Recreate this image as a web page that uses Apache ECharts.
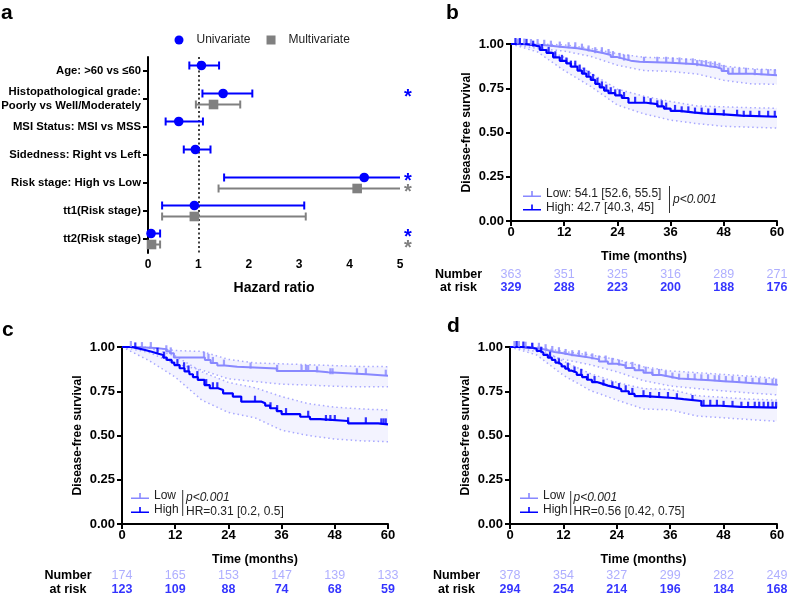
<!DOCTYPE html>
<html><head><meta charset="utf-8">
<script src="https://cdn.jsdelivr.net/npm/echarts@6/dist/echarts.min.js"></script>
<style>html,body{margin:0;padding:0;background:#fff}#chart{width:787px;height:600px}</style>
</head><body><div id="chart"></div>
<script>
// ---------- Panel a: forest plot data ----------
const forestCategories = ['Age: >60 vs ≤60', 'Histopathological grade:\nPoorly vs Well/Moderately', 'MSI Status: MSI vs MSS', 'Sidedness: Right vs Left', 'Risk stage: High vs Low', 'tt1(Risk stage)', 'tt2(Risk stage)'];
const uniIndex = [0, 1, 2, 3, 4, 5, 6];
const uniHR = [1.06, 1.49, 0.61, 0.94, 4.29, 0.92, 0.06];
const uniLower = [0.82, 1.08, 0.35, 0.71, 1.51, 0.28, 0.01];
const uniUpper = [1.41, 2.07, 1.09, 1.24, 12.2, 3.10, 0.24];
const uniSignificant = [0, 1, 0, 0, 1, 0, 1];
const multiIndex = [1, 4, 5, 6];
const multiHR = [1.30, 4.15, 0.92, 0.07];
const multiLower = [0.95, 1.40, 0.28, 0.01];
const multiUpper = [1.83, 12.3, 3.13, 0.24];
const multiSignificant = [0, 1, 0, 1];
const hrTicks = [0, 1, 2, 3, 4, 5];

// ---------- KM panels ----------
const riskTimes = [0, 12, 24, 36, 48, 60];
const riskRowLabels = ['Number', 'at risk'];
const bLowName = 'Low: 54.1 [52.6, 55.5]';
const bHighName = 'High: 42.7 [40.3, 45]';
const bLowRisk = [363, 351, 325, 316, 289, 271];
const bHighRisk = [329, 288, 223, 200, 188, 176];
const cLowRisk = [174, 165, 153, 147, 139, 133];
const cHighRisk = [123, 109, 88, 74, 68, 59];
const dLowRisk = [378, 354, 327, 299, 282, 249];
const dHighRisk = [294, 254, 214, 196, 184, 168];

const bLowCurve = [[0,1],[1.5,0.997],[4,0.994],[7,0.99],[9,0.985],[11,0.98],[13,0.976],[15,0.968],[17,0.958],[19,0.948],[21,0.938],[22.5,0.926],[24,0.916],[25.5,0.906],[27,0.9],[29,0.894],[36,0.89],[39,0.885],[42,0.875],[44.5,0.868],[46.5,0.86],[47.5,0.848],[49,0.832],[54.5,0.824],[60,0.821]];
const bHighCurve = [[0,1],[3,0.995],[5,0.985],[6.5,0.966],[8,0.95],[9.5,0.925],[11,0.905],[12.5,0.89],[13.5,0.872],[15,0.85],[16,0.833],[17,0.815],[18,0.797],[19,0.775],[20,0.755],[21,0.737],[22,0.722],[23.5,0.71],[25,0.695],[26.5,0.668],[30.5,0.66],[33,0.648],[34.5,0.635],[36,0.622],[38,0.614],[41,0.607],[44,0.602],[48,0.595],[52,0.589],[60,0.586]];
const bLowCI = [[0,1,1],[6,0.975,1],[12,0.96,0.995],[18,0.93,0.975],[24,0.88,0.945],[30,0.85,0.925],[36,0.845,0.92],[42,0.83,0.91],[48,0.795,0.875],[54,0.775,0.86],[60,0.772,0.853]];
const bHighCI = [[0,1,1],[6,0.955,0.99],[12,0.85,0.925],[18,0.76,0.835],[24,0.655,0.745],[30,0.605,0.705],[36,0.57,0.675],[42,0.55,0.65],[48,0.535,0.645],[54,0.53,0.64],[60,0.525,0.637]];
const bLowCensor = [1.5,2,3,4.5,6,7.5,9,11,13,14.5,16,17.5,19,20.5,22,23,24.5,25.5,26.5,30,33,35,36.5,38,39.5,41,42,43,44,45,46,47,48,49,50,51.5,53,55,56.5,58,59.5];
const bHighCensor = [1,2,3.5,5,7,8.5,10,11.5,12.5,13.5,14.5,15.5,16.5,17.5,18.5,19.5,20.5,21.5,22.5,23.5,24.5,25.5,28,30,31.5,33,34,35,37,38.5,40,41.5,43,44.5,46,48,51,52.5,54,56,58,59.5];

const cLowCurve = [[0,1],[3,0.994],[7.5,0.988],[10,0.976],[10.8,0.964],[11.7,0.94],[18.7,0.927],[20,0.91],[21.5,0.895],[23.2,0.888],[26,0.878],[34.9,0.865],[43.5,0.857],[46.5,0.846],[55.2,0.838],[60,0.838]];
const cHighCurve = [[0,1],[2.2,0.992],[3.7,0.983],[5.2,0.973],[6.7,0.962],[8.2,0.955],[9.3,0.94],[10.1,0.927],[11.2,0.912],[11.8,0.898],[13,0.88],[14.1,0.862],[15.2,0.846],[16,0.83],[17.1,0.814],[18.6,0.785],[19.8,0.767],[21.7,0.757],[22.8,0.738],[25,0.72],[26.9,0.691],[31.5,0.682],[32.3,0.669],[33.4,0.654],[34.9,0.638],[36,0.621],[40.2,0.606],[42.4,0.593],[44.7,0.582],[51,0.569],[57.8,0.563],[60,0.563]];
const cLowCI = [[0,1,1],[6,0.97,1],[12,0.905,0.98],[18,0.87,0.975],[24,0.82,0.93],[30,0.805,0.91],[36,0.79,0.905],[42,0.785,0.9],[48,0.778,0.895],[54,0.775,0.89],[60,0.776,0.889]];
const cHighCI = [[0,1,1],[6,0.925,0.995],[12,0.83,0.95],[18,0.7,0.86],[24,0.63,0.8],[30,0.6,0.77],[36,0.53,0.72],[42,0.5,0.68],[48,0.48,0.66],[54,0.47,0.65],[60,0.465,0.644]];
const cLowCensor = [2,4.5,6.5,10,11,18.5,19.5,20.5,23,29,35,40.5,41.5,42,44,47,47.5,53,55,59.5];
const cHighCensor = [3,8,9.5,12.5,14,15,17,19,20.5,21.5,30,33.5,35,37,42,46,47,48,51,55,58.5,59,59.5];

const dLowCurve = [[0,1],[3,0.996],[5,0.99],[7,0.982],[8.5,0.972],[10,0.965],[12,0.955],[14,0.948],[16,0.94],[18,0.93],[20,0.918],[22,0.905],[24,0.895],[26,0.882],[28,0.868],[30,0.855],[32,0.842],[34,0.832],[36,0.822],[38,0.816],[42,0.812],[45,0.807],[48,0.802],[51,0.797],[54,0.792],[57,0.787],[60,0.783]];
const dHighCurve = [[0,1],[2.5,0.997],[4.5,0.99],[6,0.978],[6.8,0.968],[7.5,0.955],[8.5,0.94],[9.4,0.927],[10.2,0.912],[10.9,0.902],[11.6,0.89],[12.4,0.878],[13.2,0.866],[13.9,0.856],[15,0.843],[16.2,0.83],[17.3,0.815],[18.4,0.802],[19.5,0.793],[20.7,0.782],[22,0.772],[23.7,0.762],[25,0.75],[26.7,0.735],[28,0.722],[30.4,0.712],[36.7,0.705],[39,0.695],[43,0.668],[47.3,0.662],[51.8,0.657],[60,0.654]];
const dLowCI = [[0,1,1],[6,0.975,1],[12,0.93,0.975],[18,0.9,0.955],[24,0.86,0.93],[30,0.81,0.888],[36,0.78,0.865],[42,0.765,0.855],[48,0.752,0.845],[54,0.74,0.835],[60,0.73,0.822]];
const dHighCI = [[0,1,1],[6,0.955,0.998],[12,0.84,0.92],[18,0.755,0.85],[24,0.7,0.8],[30,0.65,0.765],[36,0.645,0.76],[42,0.61,0.725],[48,0.6,0.715],[54,0.59,0.705],[60,0.58,0.7]];
const dLowCensor = [1,2,3.5,5,6.5,8,9.5,11,12.5,14,15.5,17,18.5,20,21.5,23,24.5,26,27.5,29,30.5,32,33.5,35,36.5,38,40,41.5,43,44.5,46,47,48.5,50,51.5,53,54.5,56,57.5,59,59.8];
const dHighCensor = [1.5,3,5,7,9,11,13,14.5,16,17.5,19,21,23,24.5,26,27.5,30,31.5,33.5,35.5,37.5,41,43.5,45,46.5,48,50,52,53.5,55,56,57,58,59,59.8];

// ---------- styling ----------
const FONT = '"Liberation Sans", Arial, Helvetica, sans-serif';
const LOW = '#8888FF', HIGH = '#0000FF', LOWTXT = '#9A9AFF', GREY = '#808080';
const CI_LINE = '#A8A8FF', CI_FILL = '#F3F3FF';
const LEG_ICON = 'path://M0,4.5H18V6H0Z M8.2,0H9.8V6H8.2Z';
const SQUARE_ICON = 'path://M0,4.5L0.01,4.5L0,4.51Z M8,0H17V9H8Z M25,4.5L24.99,4.5L25,4.51Z';

function stepValue(curve, t) {
  let v = curve[0][1];
  for (const p of curve) { if (p[0] <= t) v = p[1]; else break; }
  return v;
}

const chart = echarts.init(document.getElementById('chart'));

const boldLabel = (size, margin) => ({fontFamily: FONT, fontWeight: 'bold', fontSize: size, color: '#000', margin});
const blackLine = {lineStyle: {color: '#000', width: 2}};
const blackTick = {length: 5, lineStyle: {color: '#000', width: 2}};

const grids = [
  {left: 148, top: 57, width: 252, height: 196},
  {left: 511, top: 44, width: 266, height: 177},
  {left: 511, top: 268.5, width: 266, height: 26},
  {left: 122, top: 347, width: 266, height: 177},
  {left: 122, top: 569, width: 266, height: 28},
  {left: 510, top: 347, width: 267, height: 177},
  {left: 510, top: 569, width: 267, height: 28}
].map(g => Object.assign({containLabel: false, outerBoundsMode: 'none'}, g));

function kmX(g) {
  return {type: 'value', gridIndex: g, min: 0, max: 60, interval: 12,
    name: 'Time (months)', nameLocation: 'middle', nameGap: 29,
    nameTextStyle: {fontFamily: FONT, fontWeight: 'bold', fontSize: 12.5, color: '#000'},
    axisLine: blackLine, axisTick: blackTick, axisLabel: boldLabel(13, 5), splitLine: {show: false}};
}
function kmY(g) {
  return {type: 'value', gridIndex: g, min: 0, max: 1, interval: 0.25,
    name: 'Disease-free survival', nameLocation: 'middle', nameGap: 38,
    nameTextStyle: {fontFamily: FONT, fontWeight: 'bold', fontSize: 12, color: '#000'},
    axisLine: Object.assign({show: true}, blackLine), axisTick: Object.assign({show: true}, blackTick),
    axisLabel: Object.assign(boldLabel(13, 7), {formatter: v => v.toFixed(2)}), splitLine: {show: false}};
}
function riskX(g) { return {type: 'value', gridIndex: g, min: 0, max: 60, show: false}; }
function riskY(g, margin) {
  return {type: 'category', gridIndex: g, data: riskRowLabels, inverse: true,
    axisLine: {show: false}, axisTick: {show: false},
    axisLabel: Object.assign(boldLabel(12.5, margin), {interval: 0, align: 'center'}), splitLine: {show: false}};
}

function forestSeries(name, idx, hr, lo, hi, sig, color, shape, dy) {
  return {
    type: 'custom', name, xAxisIndex: 0, yAxisIndex: 0, itemStyle: {color}, clip: false, z: 5,
    data: idx.map((c, i) => [hr[i], c, lo[i], hi[i], sig[i]]),
    encode: {x: 0, y: 1},
    renderItem(params, api) {
      const cat = api.value(1);
      const c0 = api.coord([0, cat]);
      const c5 = api.coord([5, cat]);
      const y = c0[1] + dy;
      const loV = api.value(2), hiV = api.value(3);
      const xl = api.coord([Math.max(loV, 0), cat])[0];
      const xh = api.coord([Math.min(hiV, 5), cat])[0];
      const xp = api.coord([api.value(0), cat])[0];
      const st = {stroke: color, lineWidth: 2};
      const ch = [{type: 'line', shape: {x1: xl, y1: y, x2: xh, y2: y}, style: st}];
      if (loV > 0.05) ch.push({type: 'line', shape: {x1: xl, y1: y - 4, x2: xl, y2: y + 4}, style: st});
      if (hiV <= 5) ch.push({type: 'line', shape: {x1: xh, y1: y - 4, x2: xh, y2: y + 4}, style: st});
      if (shape === 'circle') ch.push({type: 'circle', shape: {cx: xp, cy: y, r: 4.8}, style: {fill: color}});
      else ch.push({type: 'rect', shape: {x: xp - 4.8, y: y - 4.8, width: 9.6, height: 9.6}, style: {fill: color}});
      if (api.value(4)) ch.push({type: 'text', x: c5[0] + 8, y: y + 4,
        style: {text: '*', fill: color, font: 'bold 20px ' + FONT, align: 'center', verticalAlign: 'middle'}});
      return {type: 'group', children: ch};
    }
  };
}

function kmSeries(g, name, curve, ci, censor, color, width) {
  return [
    {type: 'custom', xAxisIndex: g, yAxisIndex: g, silent: true, z: 1, data: [[0, 0]],
      renderItem(p, api) {
        const pts = [];
        ci.forEach(r => pts.push(api.coord([r[0], r[2]])));
        for (let i = ci.length - 1; i >= 0; i--) pts.push(api.coord([ci[i][0], ci[i][1]]));
        return {type: 'polygon', shape: {points: pts}, style: {fill: CI_FILL}};
      }},
    {type: 'line', xAxisIndex: g, yAxisIndex: g, silent: true, z: 2, symbol: 'none',
      data: ci.map(r => [r[0], r[1]]), lineStyle: {type: [1.5, 3], width: 1.5, color: CI_LINE}},
    {type: 'line', xAxisIndex: g, yAxisIndex: g, silent: true, z: 2, symbol: 'none',
      data: ci.map(r => [r[0], r[2]]), lineStyle: {type: [1.5, 3], width: 1.5, color: CI_LINE}},
    {type: 'line', name, xAxisIndex: g, yAxisIndex: g, z: 3, step: 'end', symbol: 'none',
      data: curve, lineStyle: {color, width}, itemStyle: {color}},
    {type: 'scatter', xAxisIndex: g, yAxisIndex: g, z: 4, silent: true, symbol: 'rect',
      symbolSize: [2.2, 6], symbolOffset: [0, -3], itemStyle: {color},
      data: censor.map(t => [t, stepValue(curve, t)])}
  ];
}

function riskSeries(g, row, counts, color, weight) {
  return {type: 'scatter', xAxisIndex: g, yAxisIndex: g, silent: true, symbolSize: 1,
    itemStyle: {color: 'rgba(0,0,0,0)'},
    data: riskTimes.map((t, i) => [t, row, counts[i]]),
    label: {show: true, position: 'inside', formatter: p => String(p.value[2]),
      color, fontFamily: FONT, fontSize: 12.5, fontWeight: weight}};
}

function kmLegend(left, top, names, gap) {
  return {orient: 'vertical', left, top, itemWidth: 18, itemHeight: 6, itemGap: gap,
    data: names.map(n => ({name: n, icon: LEG_ICON})),
    textStyle: {fontFamily: FONT, fontSize: 12, color: '#222'}, selectedMode: false};
}

const txt = (x, y, text, font, extra) => ({type: 'text', x, y, silent: true,
  style: Object.assign({text, font, fill: '#222', verticalAlign: 'middle'}, extra || {})});
const vline = (x, y1, y2) => ({type: 'line', silent: true, shape: {x1: x, y1, x2: x, y2}, style: {stroke: '#333', lineWidth: 1}});

const option = {
  animation: false,
  backgroundColor: '#fff',
  grid: grids,
  xAxis: [
    {type: 'value', gridIndex: 0, min: hrTicks[0], max: hrTicks[hrTicks.length - 1], interval: 1,
      name: 'Hazard ratio', nameLocation: 'middle', nameGap: 28,
      nameTextStyle: {fontFamily: FONT, fontWeight: 'bold', fontSize: 14, color: '#000'},
      axisLine: blackLine, axisTick: blackTick, axisLabel: boldLabel(12, 6), splitLine: {show: false}},
    kmX(1), riskX(2), kmX(3), riskX(4), kmX(5), riskX(6)
  ],
  yAxis: [
    {type: 'category', gridIndex: 0, data: forestCategories, inverse: true,
      axisLine: Object.assign({show: true}, blackLine),
      axisTick: {show: true, alignWithLabel: true, length: 5, lineStyle: {color: '#000', width: 2}},
      axisLabel: Object.assign(boldLabel(11.3, 7), {lineHeight: 14, interval: 0}), splitLine: {show: false}},
    kmY(1), riskY(2, 52.5), kmY(3), riskY(4, 54), kmY(5), riskY(6, 53.5)
  ],
  legend: [
    {left: 169.5, top: 29, itemWidth: 25, itemHeight: 9, itemGap: 8, selectedMode: false,
      data: [{name: 'Univariate', icon: 'circle'}, {name: 'Multivariate', icon: SQUARE_ICON}],
      textStyle: {fontFamily: FONT, fontSize: 12, color: '#222'}},
    kmLegend(518, 183, [bLowName, bHighName], 1.5),
    kmLegend(126, 485, ['Low', 'High'], 2),
    kmLegend(515, 485, ['Low', 'High'], 2)
  ],
  series: [
    {type: 'line', xAxisIndex: 0, yAxisIndex: 0, data: [], silent: true,
      markLine: {silent: true, symbol: 'none', label: {show: false},
        lineStyle: {type: [2, 2.5], color: '#000', width: 1.5}, data: [{xAxis: 1}]}},
    forestSeries('Univariate', uniIndex, uniHR, uniLower, uniUpper, uniSignificant, HIGH, 'circle', -5.5),
    forestSeries('Multivariate', multiIndex, multiHR, multiLower, multiUpper, multiSignificant, GREY, 'rect', 5.5),
    ...kmSeries(1, bLowName, bLowCurve, bLowCI, bLowCensor, LOW, 2),
    ...kmSeries(1, bHighName, bHighCurve, bHighCI, bHighCensor, HIGH, 2.2),
    riskSeries(2, 0, bLowRisk, LOWTXT, 'normal'),
    riskSeries(2, 1, bHighRisk, HIGH, 'bold'),
    ...kmSeries(3, 'Low', cLowCurve, cLowCI, cLowCensor, LOW, 2),
    ...kmSeries(3, 'High', cHighCurve, cHighCI, cHighCensor, HIGH, 2.2),
    riskSeries(4, 0, cLowRisk, LOWTXT, 'normal'),
    riskSeries(4, 1, cHighRisk, HIGH, 'bold'),
    ...kmSeries(5, 'Low', dLowCurve, dLowCI, dLowCensor, LOW, 2),
    ...kmSeries(5, 'High', dHighCurve, dHighCI, dHighCensor, HIGH, 2.2),
    riskSeries(6, 0, dLowRisk, LOWTXT, 'normal'),
    riskSeries(6, 1, dHighRisk, HIGH, 'bold')
  ],
  graphic: [
    {type: 'text', left: 1, top: 3, style: {text: 'a', font: 'bold 21px ' + FONT, fill: '#000'}},
    {type: 'text', left: 446, top: 3, style: {text: 'b', font: 'bold 21px ' + FONT, fill: '#000'}},
    {type: 'text', left: 2, top: 320, style: {text: 'c', font: 'bold 21px ' + FONT, fill: '#000'}},
    {type: 'text', left: 447, top: 316, style: {text: 'd', font: 'bold 21px ' + FONT, fill: '#000'}},
    vline(669.5, 186, 213),
    txt(673, 200, 'p<0.001', 'italic 12px ' + FONT),
    vline(182.7, 490, 516),
    txt(186, 498, 'p<0.001', 'italic 12px ' + FONT),
    txt(186, 512, 'HR=0.31 [0.2, 0.5]', '12px ' + FONT),
    vline(570.7, 491, 515),
    txt(573.5, 498, 'p<0.001', 'italic 12px ' + FONT),
    txt(573.5, 512, 'HR=0.56 [0.42, 0.75]', '12px ' + FONT)
  ]
};
chart.setOption(option);
</script></body></html>
